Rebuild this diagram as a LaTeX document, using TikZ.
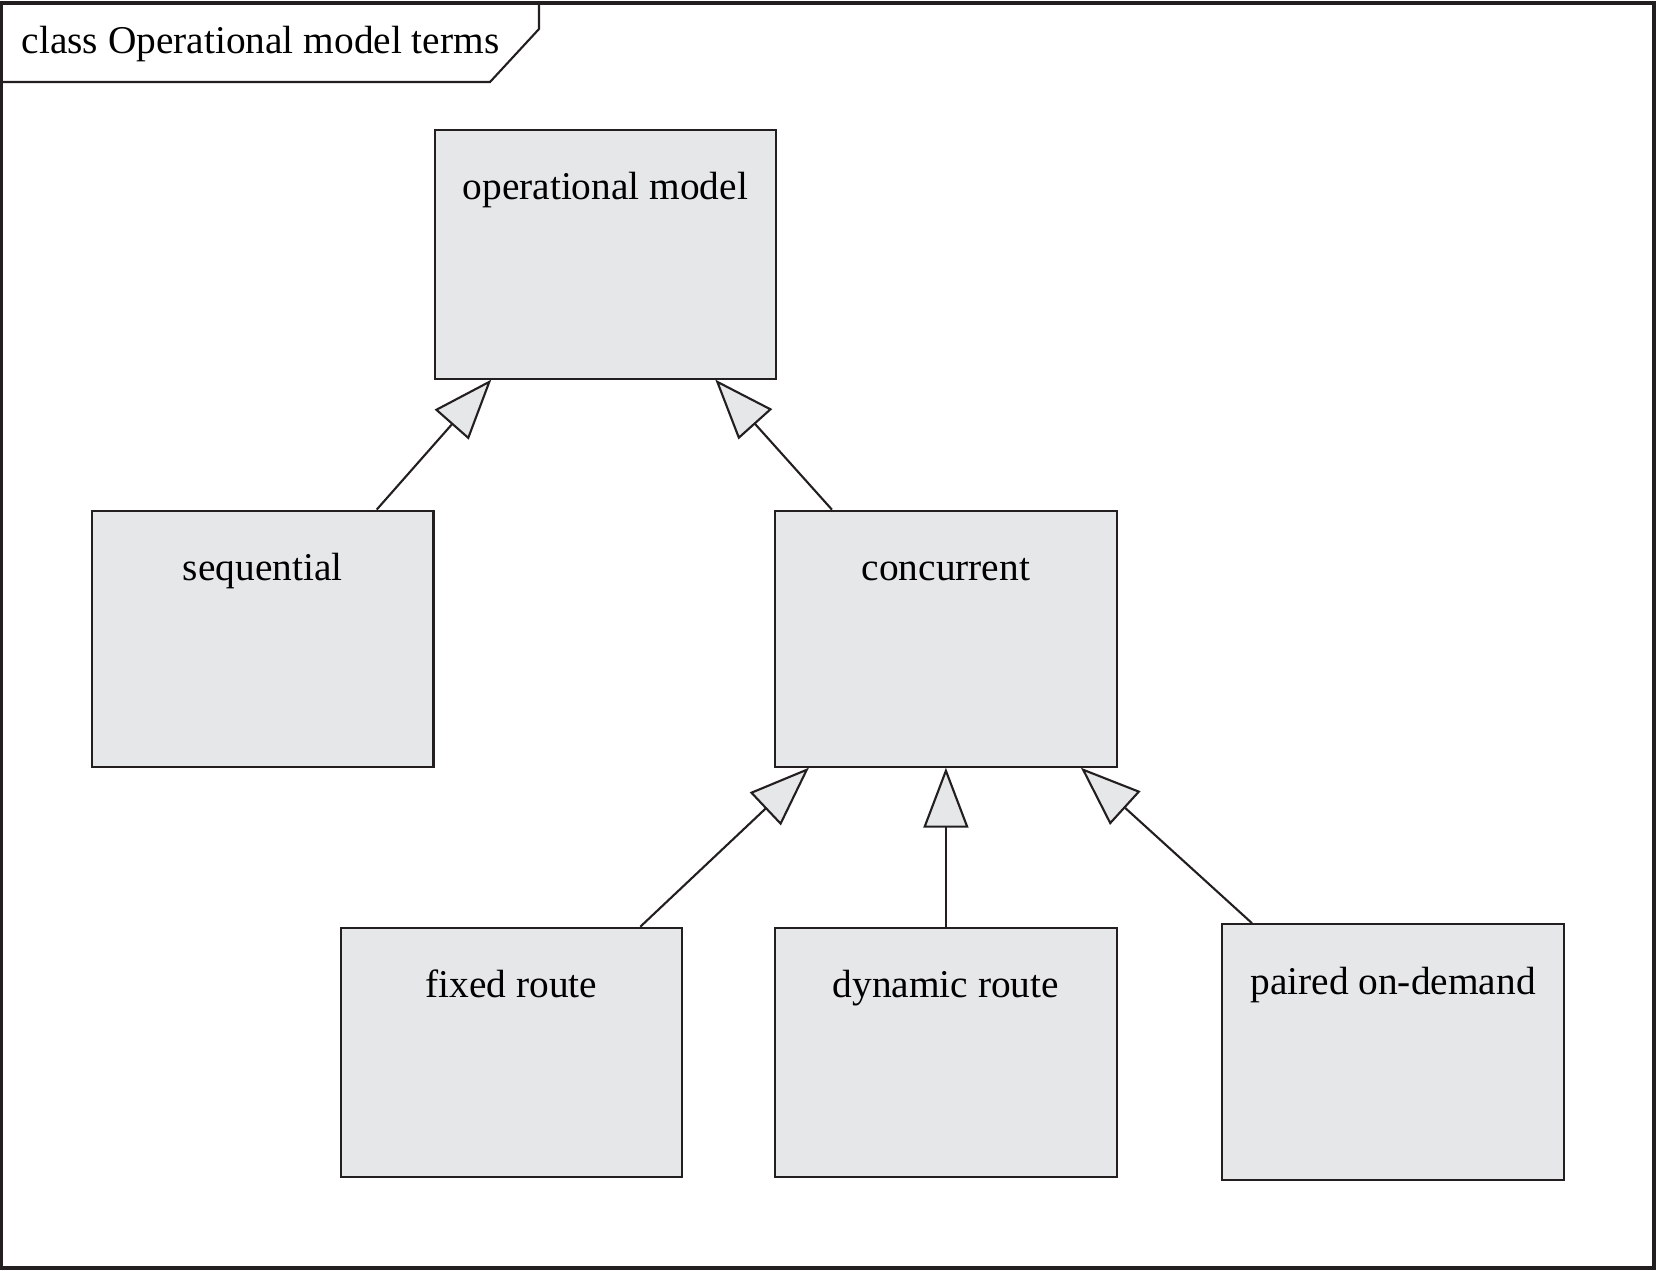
\documentclass[tikz,border=0pt]{standalone}
\usepackage{fontspec}
\setmainfont{Liberation Serif}
\usetikzlibrary{arrows.meta,positioning}
\definecolor{boxgray}{HTML}{E6E7E9}
\definecolor{umlline}{HTML}{231F20}

\begin{document}
\begin{tikzpicture}[
      classbox/.style={
         rectangle,
         draw=umlline,
         fill=boxgray,
         line width=0.6pt,
         inner sep=0pt,
         minimum width=3.415cm,
         text height=0.70cm,
         text depth=1.79cm,
         font=\fontsize{11.2}{13}\selectfont},
      tallbox/.style={classbox,text depth=1.86cm},
      genarrow/.style={-{Triangle[length=6mm,width=4.5mm,fill=boxgray]},draw=umlline,line width=0.6pt},
      node distance=1.30cm and 0cm
      ]
      \useasboundingbox (0,0) rectangle (16.57,-12.70);
      % frame with its name tab
      \draw[umlline,line width=0.9pt] (0.01,-0.03) rectangle (16.54,-12.68);
      \draw[umlline,line width=0.6pt] (0.01,-0.82) -- (4.90,-0.82) -- (5.39,-0.29) -- (5.39,-0.03);
      \node[anchor=base west,inner sep=0pt,font=\fontsize{11.2}{13}\selectfont] (title) at (0.21,-0.54) {class Operational model terms};

      \node[classbox,anchor=north west] (opm) at (4.335,-1.285) {operational model};
      \node[tallbox,below left=1.30cm and -0.01cm of opm] (seq) {sequential};
      \node[tallbox,below right=1.30cm and -0.03cm of opm] (conc) {concurrent};
      \node[classbox,below=1.59cm of conc] (dyn) {dynamic route};
      \node[classbox,left=0.91cm of dyn] (fix) {fixed route};
      \node[tallbox,right=1.035cm of dyn] (pair) {paired on-demand};

    \foreach \i/\j/\a/\b in {% child/parent/shift at child/shift at parent
      seq/opm/1.14/-1.14,
      conc/opm/-1.14/1.10,
      fix/conc/1.29/-1.37,
      dyn/conc/0/0,
      pair/conc/-1.41/1.35}
       \draw [genarrow] ([xshift=\a cm]\i.north) -- ([xshift=\b cm]\j.south);

    \end{tikzpicture}
\end{document}
